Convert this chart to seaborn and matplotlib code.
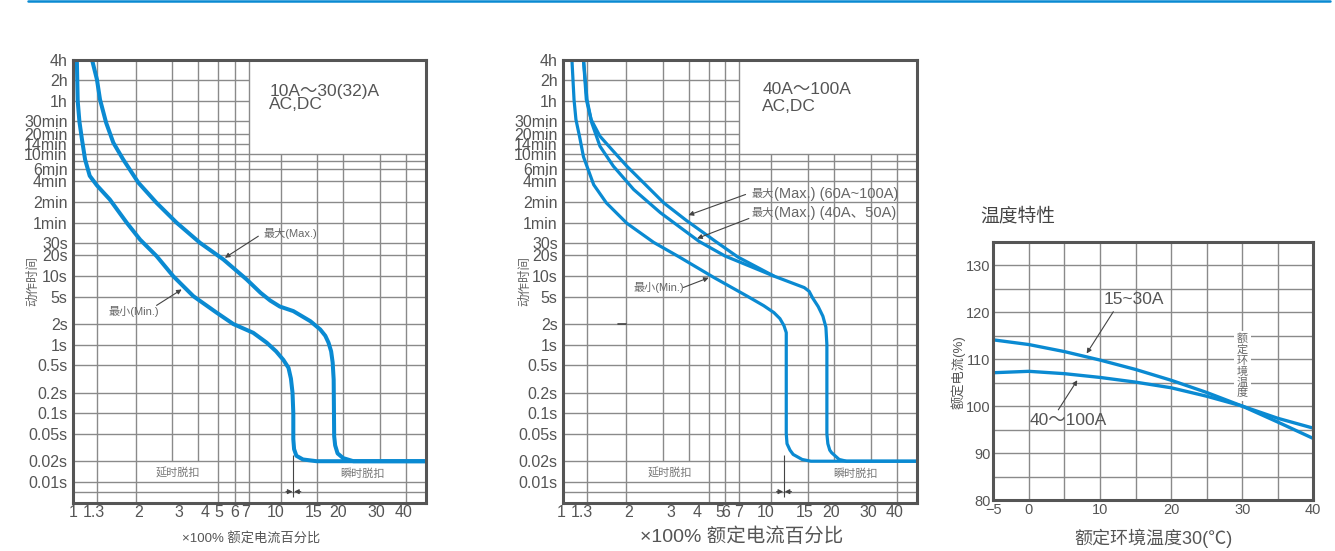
import matplotlib
matplotlib.use("Agg")
import matplotlib.pyplot as plt
import pandas as pd
import seaborn as sns
from matplotlib.lines import Line2D
from matplotlib.ticker import NullLocator
from matplotlib.transforms import ScaledTranslation

# ---------------- data ----------------
# x axis: multiple of rated current; y axis: tripping time in seconds
X_TICKS = [1, 1.3, 2, 3, 4, 5, 6, 7, 10, 15, 20, 30, 40]
X_LABELS = ["1", "1.3", "2", "3", "4", "5", "6", "7", "10", "15", "20", "30", "40"]
T_TICKS = [14400, 7200, 3600, 1800, 1200, 840, 600, 360, 240, 120, 60, 30, 20,
           10, 5, 2, 1, 0.5, 0.2, 0.1, 0.05, 0.02, 0.01]
T_LABELS = ["4h", "2h", "1h", "30min", "20min", "14min", "10min", "6min", "4min",
            "2min", "1min", "30s", "20s", "10s", "5s", "2s", "1s", "0.5s", "0.2s",
            "0.1s", "0.05s", "0.02s", "0.01s"]
T_EXTRA_ROWS = [480, 0.0072]

# 10A~30(32)A
small_min_x = [1.04, 1.05, 1.07, 1.10, 1.14, 1.20, 1.30, 1.50, 1.81, 2.10, 2.52, 3.03,
               3.79, 4.91, 5.91, 7.37, 8.56, 9.5, 10.3, 10.9, 11.2, 11.4, 11.5, 11.5,
               11.6, 11.9, 12.8, 14.9, 50]
small_min_t = [14400, 3600, 1800, 1000, 500, 290, 210, 131, 60, 34, 19.6, 10,
               5.1, 2.93, 2.0, 1.49, 1.07, 0.8, 0.6, 0.46, 0.32, 0.2, 0.1, 0.042,
               0.03, 0.024, 0.0212, 0.02, 0.02]
small_max_x = [1.23, 1.30, 1.345, 1.44, 1.56, 1.74, 2.06, 2.52, 3.15, 4.08, 5.29, 6.85,
               8.0, 8.9, 9.9, 11.5, 13.9, 15.5, 16.4, 17.0, 17.5, 17.8, 18.0, 18.1, 18.3,
               18.8, 20.0, 22.4, 50]
small_max_t = [14400, 7357, 3760, 1720, 880, 502, 230, 117, 60, 30.6, 17.5, 8.94,
               5.7, 4.4, 3.6, 3.09, 2.2, 1.67, 1.35, 1.07, 0.8, 0.55, 0.31, 0.0465,
               0.034, 0.026, 0.0222, 0.02, 0.02]

# 40A~100A
large_min_x = [1.10, 1.126, 1.15, 1.20, 1.25, 1.40, 1.61, 2.02, 2.72, 3.59, 5.29, 7.65,
               9.2, 10.3, 11.0, 11.5, 11.8, 11.8, 11.9, 12.3, 12.74, 14.07, 15.5, 50]
large_min_t = [14400, 3760, 1922, 1045, 550, 215, 117, 59, 31, 19.2, 9.56, 5.11,
               3.7, 2.93, 2.4, 1.9, 1.5, 0.05, 0.036, 0.029, 0.0251, 0.0212, 0.02, 0.02]
large_max60_x = [1.25, 1.29, 1.36, 1.50, 1.71, 2.02, 2.43, 3.04, 3.90, 5.40, 6.90, 10.3,
                 12.5, 14.4, 15.2, 15.8, 16.8, 17.7, 18.3, 18.5, 18.5, 18.7, 19.1, 19.5,
                 21.2, 23.0, 50]
large_max60_t = [14400, 3760, 1922, 1097, 702, 401, 230, 117, 65, 32, 19, 10,
                 8.0, 6.8, 6.0, 4.8, 3.6, 2.6, 1.8, 1.0, 0.05, 0.036, 0.029, 0.0266,
                 0.0212, 0.02, 0.02]
large_max40_x = [1.25, 1.30, 1.37, 1.50, 1.74, 2.18, 2.93, 4.50, 6.00, 10.3]
large_max40_t = [14400, 3760, 1720, 784, 401, 183, 84, 32, 19.6, 10]

# temperature derating: ambient temperature (°C) vs rated current (%)
temp_c = [-5, 0, 5, 10, 15, 20, 25, 30, 35, 40]
rating_15_30 = [114.1, 113.1, 111.6, 109.8, 107.8, 105.5, 102.9, 100.0, 96.6, 93.1]
rating_40_100 = [107.1, 107.4, 106.9, 106.1, 105.1, 103.9, 102.1, 100.0, 97.4, 95.3]
TEMP_X_TICKS = [-5, 0, 10, 20, 30, 40]
TEMP_X_LABELS = ["\u22125", "0", "10", "20", "30", "40"]
TEMP_Y_TICKS = [80, 90, 100, 110, 120, 130]

# ---------------- style ----------------
BLUE = "#0a8ad2"
GRID = "#8a8a8a"
FRAME = "#555555"
TXT = "#555555"
X_MIN, X_MAX = 1, 50
T_MIN, T_MAX = 0.005, 14400
BOX_X, BOX_T = 7, 600          # blank label box in the upper right corner
T_INST = 0.02                  # instantaneous-trip row

sns.set_theme(style="white")
plt.rcParams["font.family"] = ["Liberation Sans", "Noto Sans CJK SC"]
plt.rcParams["axes.unicode_minus"] = False

W, H = 1335, 551
fig = plt.figure(figsize=(W / 100, H / 100), dpi=100)


def px_axes(left, top, right, bottom):
    return fig.add_axes([left / W, 1 - bottom / H, (right - left) / W, (bottom - top) / H])


def frame(ax):
    for s in ax.spines.values():
        s.set_visible(True)
        s.set_color(FRAME)
        s.set_linewidth(2.2)
        s.set_zorder(5)


def trip_panel(ax, curves, title_lines, shifts, lw):
    ax.set_xscale("log")
    ax.set_yscale("log")
    for x in X_TICKS[1:]:
        lo = T_INST if x in (3, 4, 20, 30) else T_MIN
        hi = BOX_T if x > BOX_X else T_MAX
        ax.vlines(x, lo, hi, color=GRID, lw=1.0, zorder=1)
    for t in T_TICKS[1:] + T_EXTRA_ROWS:
        right = BOX_X if t > BOX_T else X_MAX
        ax.hlines(t, X_MIN, right, color=GRID, lw=1.0, zorder=1)

    frames = [pd.DataFrame({"multiple": xs, "time": ts, "curve": name})
              for name, (xs, ts) in curves.items()]
    df = pd.concat(frames, ignore_index=True)
    sns.lineplot(data=df, x="multiple", y="time", hue="curve",
                 palette={k: BLUE for k in curves}, estimator=None, sort=False,
                 legend=False, linewidth=lw, ax=ax, zorder=3,
                 solid_joinstyle="round", solid_capstyle="butt")

    ax.set_xlim(X_MIN, X_MAX)
    ax.set_ylim(T_MIN, T_MAX)
    ax.set_xticks(X_TICKS, X_LABELS)
    ax.set_yticks(T_TICKS, T_LABELS)
    ax.xaxis.set_minor_locator(NullLocator())
    ax.yaxis.set_minor_locator(NullLocator())
    ax.tick_params(axis="both", length=0, labelsize=11.5, labelcolor=TXT)
    ax.tick_params(axis="x", pad=2)
    ax.tick_params(axis="y", pad=4)
    ax.set_xlabel("")
    ax.set_ylabel("")
    for lab, dx in zip(ax.get_xticklabels(), shifts):
        lab.set_transform(lab.get_transform() + ScaledTranslation(dx / 100, 0, fig.dpi_scale_trans))
    frame(ax)

    (x0, t1, t2, l1, l2) = title_lines
    ax.text(x0, t1, l1, fontsize=12.5, color=TXT, va="center", ha="left")
    ax.text(x0, t2, l2, fontsize=12.5, color=TXT, va="center", ha="left")

    # delayed / instantaneous trip regions
    ax.vlines(11.5, 0.006, 0.025, color="#444444", lw=0.8, zorder=2)
    arrow = dict(arrowstyle="-|>", color="#444444", lw=0.8, mutation_scale=7,
                 shrinkA=0, shrinkB=0)
    ax.annotate("", xy=(11.4, 0.0072), xytext=(10.6, 0.0072), arrowprops=arrow)
    ax.annotate("", xy=(11.6, 0.0072), xytext=(12.5, 0.0072), arrowprops=arrow)


ARROW = dict(arrowstyle="-|>", color="#444444", lw=0.8, mutation_scale=7,
             shrinkA=0, shrinkB=0)

# ---------------- panel 1: 10A~30(32)A ----------------
ax1 = px_axes(73.3, 59.5, 425.7, 502.5)
trip_panel(ax1,
           {"min": (small_min_x, small_min_t), "max": (small_max_x, small_max_t)},
           (8.82, 4969, 3180, "10A\uff5e30(32)A", "AC,DC"),
           [0, -3, 3, 7, 7, 1, 0, -3, -5, -4, -5, -3, -2], 2.9)
ax1.text(8.23, 41.4, "最大(Max.)", fontsize=8, color="#666666", va="center", ha="left")
ax1.annotate("", xy=(5.38, 18.5), xytext=(7.8, 38.2), arrowprops=ARROW)
ax1.text(1.475, 3.02, "最小(Min.)", fontsize=8, color="#666666", va="center", ha="left")
ax1.annotate("", xy=(3.33, 6.39), xytext=(2.52, 3.74), arrowprops=ARROW)
ax1.text(3.21, 0.0132, "延时脱扣", fontsize=8, color="#777777", ha="center", va="center")
ax1.text(24.8, 0.0132, "瞬时脱扣", fontsize=8, color="#777777", ha="center", va="center")

# ---------------- panel 2: 40A~100A ----------------
ax2 = px_axes(563.3, 59.5, 916.7, 502.5)
trip_panel(ax2,
           {"min": (large_min_x, large_min_t),
            "max60": (large_max60_x, large_max60_t),
            "max40": (large_max40_x, large_max40_t)},
           (9.04, 5263, 3006, "40A\uff5e100A", "AC,DC"),
           [-2, -5, 3, 8, 9, 11, 1, -1, -6, -3, -3, -2, -2], 2.3)
ax2.plot([1.84, 2.0], [2, 2], color="#444444", lw=1.2, zorder=2)
for t_txt, label in ((155, "(Max.) (60A~100A)"), (82, "(Max.) (40A\u300150A)")):
    head = ax2.text(8.0, t_txt, "最大", fontsize=8, color="#666666", va="center", ha="left")
    ax2.annotate(label, xy=(1, 0.5), xycoords=head, xytext=(0.5, 0),
                 textcoords="offset points", fontsize=10.5, color="#666666",
                 va="center", ha="left")
ax2.annotate("", xy=(4.0, 77.4), xytext=(7.52, 155), arrowprops=ARROW)
ax2.annotate("", xy=(4.4, 35.4), xytext=(7.8, 69.2), arrowprops=ARROW)
ax2.text(2.17, 6.83, "最小(Min.)", fontsize=8, color="#666666", va="center", ha="left")
ax2.annotate("", xy=(5.0, 9.47), xytext=(3.78, 6.83), arrowprops=ARROW)
ax2.text(3.24, 0.0133, "延时脱扣", fontsize=8, color="#777777", ha="center", va="center")
ax2.text(25.3, 0.0133, "瞬时脱扣", fontsize=8, color="#777777", ha="center", va="center")

for xc in (33, 525):
    fig.text(xc / W, 1 - 281 / H, "动作时间", rotation=90, fontsize=9, color="#666666",
             ha="center", va="center")
fig.text(251 / W, 1 - 539 / H, "\u00d7100% 额定电流百分比", fontsize=9.5, color="#555555",
         ha="center", va="center")
fig.text(742 / W, 1 - 537 / H, "\u00d7100% 额定电流百分比", fontsize=14, color="#555555",
         ha="center", va="center")

# ---------------- panel 3: temperature characteristic ----------------
ax3 = px_axes(993.3, 241.7, 1313.3, 500)
temp_df = pd.concat([
    pd.DataFrame({"temp": temp_c, "rating": rating_15_30, "range": "15~30A"}),
    pd.DataFrame({"temp": temp_c, "rating": rating_40_100, "range": "40~100A"}),
], ignore_index=True)
sns.lineplot(data=temp_df, x="temp", y="rating", hue="range",
             palette={"15~30A": BLUE, "40~100A": BLUE}, estimator=None, sort=False,
             legend=False, linewidth=2.4, ax=ax3, zorder=3)
ax3.set_xlim(-5, 40)
ax3.set_ylim(80, 135)
ax3.set_xticks(TEMP_X_TICKS, TEMP_X_LABELS)
ax3.set_xticks([5, 15, 25, 35], minor=True)
ax3.set_yticks(TEMP_Y_TICKS, [str(v) for v in TEMP_Y_TICKS])
ax3.set_yticks([85, 95, 105, 115, 125], minor=True)
ax3.grid(True, which="both", color=GRID, lw=1.0, zorder=1)
ax3.set_axisbelow(True)
ax3.tick_params(axis="both", which="both", length=0, labelsize=10.5, labelcolor=TXT, pad=2)
ax3.set_xlabel("")
ax3.set_ylabel("")
frame(ax3)
ax3.text(30, 108.6, "\n".join("额定环境温度"), fontsize=8, color="#666666",
         ha="center", va="center", linespacing=1.05, zorder=4,
         bbox=dict(facecolor="white", edgecolor="none", pad=2))
ax3.text(10.47, 122.6, "15~30A", fontsize=12.5, color=TXT, ha="left", va="center")
ax3.annotate("", xy=(8.13, 111.2), xytext=(11.88, 120.1), arrowprops=ARROW)
ax3.text(0.06, 97.0, "40\uff5e100A", fontsize=12.5, color=TXT, ha="left", va="center")
ax3.annotate("", xy=(6.81, 105.5), xytext=(4.14, 99.2), arrowprops=ARROW)

fig.text(980 / W, 1 - 217 / H, "温度特性", fontsize=13.5, color="#444444",
         ha="left", va="center")
fig.text(1153 / W, 1 - 538 / H, "额定环境温度30(℃)", fontsize=13, color="#555555",
         ha="center", va="center")
fig.text(958 / W, 1 - 372 / H, "额定电流(%)", rotation=90, fontsize=9.5, color="#555555",
         ha="center", va="center")

# thin rule along the top edge
fig.add_artist(Line2D([28 / W, 1330 / W], [1 - 1.2 / H, 1 - 1.2 / H],
                      transform=fig.transFigure, color=BLUE, lw=1.8))

fig.savefig("out.png", dpi=100)
